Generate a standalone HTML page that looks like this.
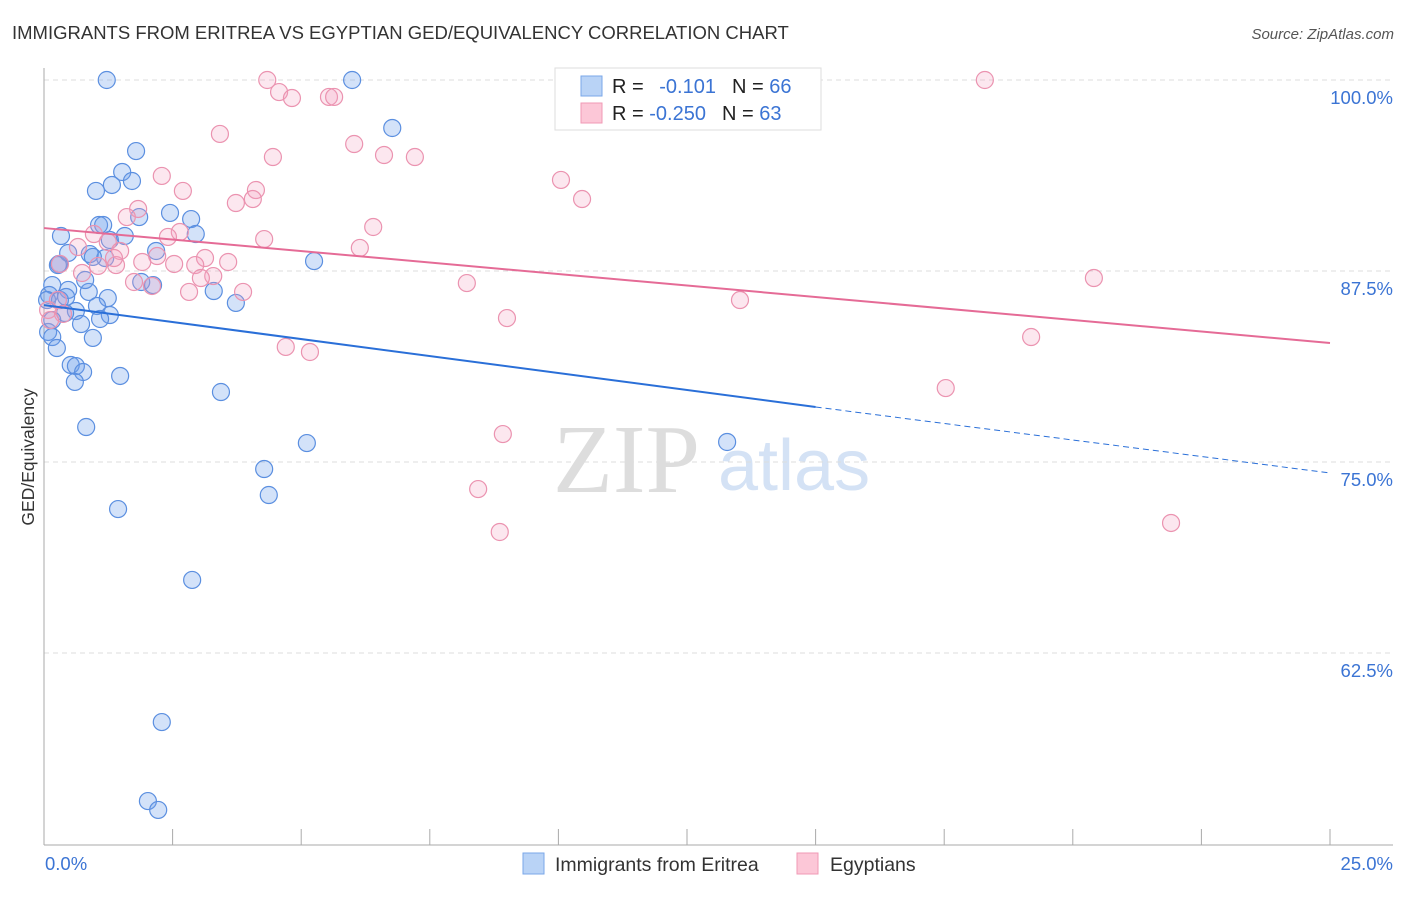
<!DOCTYPE html>
<html><head><meta charset="utf-8"><style>
body{margin:0;background:#fff;font-family:"Liberation Sans",sans-serif;}
</style></head><body>
<svg width="1406" height="892" xmlns="http://www.w3.org/2000/svg" id="chart" font-family="Liberation Sans, sans-serif">
<text x="12" y="39" font-size="18.5" fill="#333">IMMIGRANTS FROM ERITREA VS EGYPTIAN GED/EQUIVALENCY CORRELATION CHART</text>
<text x="1394" y="39" font-size="15" fill="#555" font-style="italic" text-anchor="end">Source: ZipAtlas.com</text>
<text transform="translate(34,457) rotate(-90)" font-size="17.5" fill="#333" text-anchor="middle">GED/Equivalency</text>
<g>
<text x="553" y="492" font-size="98" fill="#ddd" font-family="Liberation Serif, serif">ZIP</text>
<text x="718" y="490" font-size="72" fill="#d4e2f5">atlas</text>
</g>
<g id="grid"></g><g id="axes"></g><g id="marks"></g><g id="lines"></g>
<g>
<rect x="555" y="68" width="266" height="62" fill="#fff" stroke="#ddd"/>
<rect x="581" y="76" width="21" height="20" fill="#b9d3f6" stroke="#7aa7e8"/>
<rect x="581" y="103" width="21" height="20" fill="#fcc7d7" stroke="#f09ab5"/>
<text x="612" y="93" font-size="20" fill="#222">R = <tspan fill="#3b74d4" dx="10">-0.101</tspan><tspan dx="16">N = </tspan><tspan fill="#3b74d4">66</tspan></text>
<text x="612" y="120" font-size="20" fill="#222">R = <tspan fill="#3b74d4">-0.250</tspan><tspan dx="16">N = </tspan><tspan fill="#3b74d4">63</tspan></text>
</g>
<g>
<rect x="523" y="853" width="21" height="21" fill="#b9d3f6" stroke="#7aa7e8"/>
<text x="555" y="871" font-size="19.5" fill="#333">Immigrants from Eritrea</text>
<rect x="797" y="853" width="21" height="21" fill="#fcc7d7" stroke="#f09ab5"/>
<text x="830" y="871" font-size="19.5" fill="#333">Egyptians</text>
</g>
</svg>
<script>
const yTicks=[100,87.5,75,62.5];
const yTickLabels=["100.0%","87.5%","75.0%","62.5%"];
const xTickLabels=["0.0%","25.0%"];
const blueX=[1.22,5.99,6.77,1.79,1.52,1.32,1.71,1.01,2.45,1.85,2.86,1.07,1.15,2.95,1.57,0.33,2.18,0.89,0.47,1.19,0.95,0.29,5.25,0.16,1.89,2.12,0.87,3.30,0.10,0.47,1.24,3.73,1.03,0.62,1.28,1.09,0.41,0.72,0.08,0.16,0.95,0.25,0.52,0.62,0.76,0.60,1.48,3.44,0.82,13.28,5.11,4.28,4.37,1.44,2.88,2.29,2.02,2.22,0.06,0.31,0.43,0.16,0.80,0.27,1.28];
const blueY=[100,100,96.86,95.35,93.98,93.13,93.39,92.74,91.30,91.03,90.90,90.51,90.51,89.92,89.79,89.79,88.81,88.61,88.68,88.35,88.42,87.96,88.15,86.58,86.78,86.58,86.13,86.19,85.93,86.26,85.73,85.41,85.21,84.88,84.62,84.36,84.75,84.03,83.51,83.18,83.12,82.46,81.35,81.28,80.89,80.24,80.63,79.58,77.29,76.31,76.24,74.54,72.84,71.92,67.28,57.98,52.81,52.23,85.60,85.60,85.80,84.29,86.91,87.89,89.53];
const pinkX=[4.34,4.57,4.82,5.54,5.64,18.29,3.42,4.45,6.03,6.61,7.21,10.05,10.46,2.29,2.70,4.12,4.06,3.73,1.83,1.61,6.40,2.64,2.41,4.28,0.97,1.24,0.66,6.14,1.48,2.20,3.13,1.91,2.53,2.94,3.58,1.05,1.40,1.36,0.74,1.75,3.29,3.05,8.22,2.10,2.82,3.87,13.53,20.41,9.00,19.19,4.70,5.17,17.53,8.92,8.44,8.86,21.91,0.31,0.27,0.08,0.37,0.12];
const pinkY=[100,99.21,98.82,98.89,98.89,100,96.47,94.96,95.81,95.09,94.96,93.46,92.21,93.72,92.74,92.80,92.21,91.95,91.56,91.03,90.38,90.05,89.73,89.59,89.92,89.40,89.07,89.01,88.81,88.48,88.35,88.09,87.96,87.89,88.09,87.83,87.89,88.35,87.37,86.78,87.17,87.04,86.71,86.52,86.13,86.13,85.60,87.04,84.42,83.18,82.53,82.20,79.84,76.83,73.23,70.42,71.01,87.96,85.60,84.95,84.69,84.29];
const blueTrend=[85.27,78.60,74.28]; // at x=0, 15, 25
const pinkTrend=[90.31,82.79]; // at x=0, 25
const NS="http://www.w3.org/2000/svg";
const X=v=>44+v*51.44, Y=v=>80+(100-v)*15.28;
function mk(t,a,p){const e=document.createElementNS(NS,t);for(const k in a)e.setAttribute(k,a[k]);document.getElementById(p).appendChild(e);return e;}
yTicks.forEach((t,i)=>{
 const g=mk('line',{x1:44,x2:1393,y1:Y(t),y2:Y(t),stroke:'#ddd','stroke-dasharray':'5,4'},'grid');
 
 
 const l=mk('text',{x:1393,y:Y(t)+24,'font-size':18.5,fill:'#3b74d4','text-anchor':'end'},'axes');
 l.textContent=yTickLabels[i];
 
 
});
let a=mk('line',{x1:44,x2:44,y1:68,y2:845,stroke:'#aaa'},'axes');


a=mk('line',{x1:44,x2:1393,y1:845,y2:845,stroke:'#aaa'},'axes');


for(let i=0;i<=10;i++){const t=mk('line',{x1:X(i*2.5),x2:X(i*2.5),y1:829,y2:845,stroke:'#aaa'},'axes');
 
 }
[[0,45,'start'],[25,1393,'end']].forEach((d,i)=>{const l=mk('text',{x:d[1],y:870,'font-size':18.5,fill:'#3b74d4','text-anchor':d[2]},'axes');l.textContent=xTickLabels[i];
 
 });
blueX.forEach((v,i)=>{const c=mk('circle',{cx:X(v),cy:Y(blueY[i]),r:8.5,fill:'rgba(110,160,235,0.3)',stroke:'#5b8fe0','stroke-width':1.2},'marks');
 
 });
pinkX.forEach((v,i)=>{const c=mk('circle',{cx:X(v),cy:Y(pinkY[i]),r:8.5,fill:'rgba(245,160,190,0.25)',stroke:'#eb93b0','stroke-width':1.2},'marks');
 
 });
let t=mk('line',{x1:X(0),y1:Y(blueTrend[0]),x2:X(15),y2:Y(blueTrend[1]),stroke:'#2a6fd8','stroke-width':2},'lines');


t=mk('line',{x1:X(15),y1:Y(blueTrend[1]),x2:X(25),y2:Y(blueTrend[2]),stroke:'#2a6fd8','stroke-width':1,'stroke-dasharray':'6,4'},'lines');


t=mk('line',{x1:X(0),y1:Y(pinkTrend[0]),x2:X(25),y2:Y(pinkTrend[1]),stroke:'#e56b96','stroke-width':2},'lines');


</script>
</body></html>
